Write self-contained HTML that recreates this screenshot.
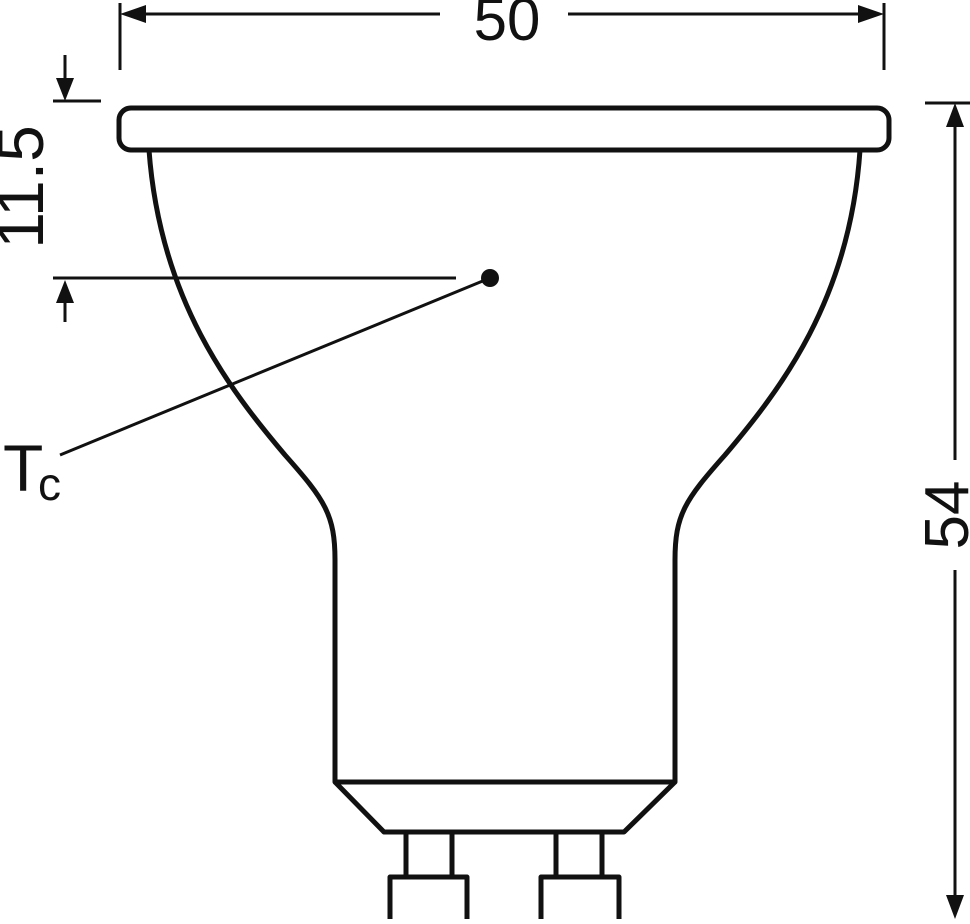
<!DOCTYPE html>
<html><head><style>html,body{margin:0;padding:0;background:#fff}</style></head>
<body>
<svg width="970" height="919" viewBox="0 0 970 919" xmlns="http://www.w3.org/2000/svg" font-family="Liberation Sans, sans-serif">
<g stroke="#111" fill="none" stroke-linejoin="round">
  <line x1="120" y1="3" x2="120" y2="70" stroke-width="3"/>
  <line x1="884" y1="3" x2="884" y2="70" stroke-width="3"/>
  <line x1="128" y1="14" x2="440" y2="14" stroke-width="3"/>
  <line x1="568" y1="14" x2="876" y2="14" stroke-width="3"/>
  <rect x="119" y="108" width="770" height="42" rx="12" stroke-width="5"/>
  <path d="M149,150 C160,300 230,390 285,455 C325,500 335,515 335,560 L335,782 L675,782 L675,560 C675,515 685,500 725,455 C780,390 850,300 860,150" stroke-width="5"/>
  <path d="M335,782 L384,832 L624,832 L675,782" stroke-width="5"/>
  <path d="M406,832 V877 M452,832 V877 M556,832 V877 M602,832 V877" stroke-width="5"/>
  <path d="M390,930 V877 H467 V930" stroke-width="5"/>
  <path d="M541,930 V877 H619 V930" stroke-width="5"/>
  <line x1="65" y1="55" x2="65" y2="85" stroke-width="3"/>
  <line x1="53" y1="101" x2="101" y2="101" stroke-width="3"/>
  <line x1="53" y1="278" x2="456" y2="278" stroke-width="3"/>
  <line x1="65" y1="295" x2="65" y2="322" stroke-width="3"/>
  <line x1="490" y1="278" x2="60" y2="455" stroke-width="3"/>
  <line x1="925" y1="103" x2="970" y2="103" stroke-width="3"/>
  <line x1="955" y1="115" x2="955" y2="460" stroke-width="3"/>
  <line x1="955" y1="570" x2="955" y2="905" stroke-width="3"/>
</g>
<g fill="#111">
  <polygon points="120,14 146,5 146,23"/>
  <polygon points="884,14 858,5 858,23"/>
  <polygon points="65,101 56,78 74,78"/>
  <polygon points="65,280 56,303 74,303"/>
  <polygon points="955,103 946,127 964,127"/>
  <polygon points="955,919 946,895 964,895"/>
  <circle cx="490" cy="278" r="9"/>
</g>
<g fill="#111">
  <text x="507" y="40" font-size="60" text-anchor="middle">50</text>
  <text transform="translate(43,187) rotate(-90)" font-size="66" text-anchor="middle">11.5</text>
  <text transform="translate(968,515) rotate(-90)" font-size="62" text-anchor="middle">54</text>
  <text x="3" y="491" font-size="66">T</text>
  <text x="38" y="500" font-size="46">c</text>
</g>
</svg>
</body></html>
